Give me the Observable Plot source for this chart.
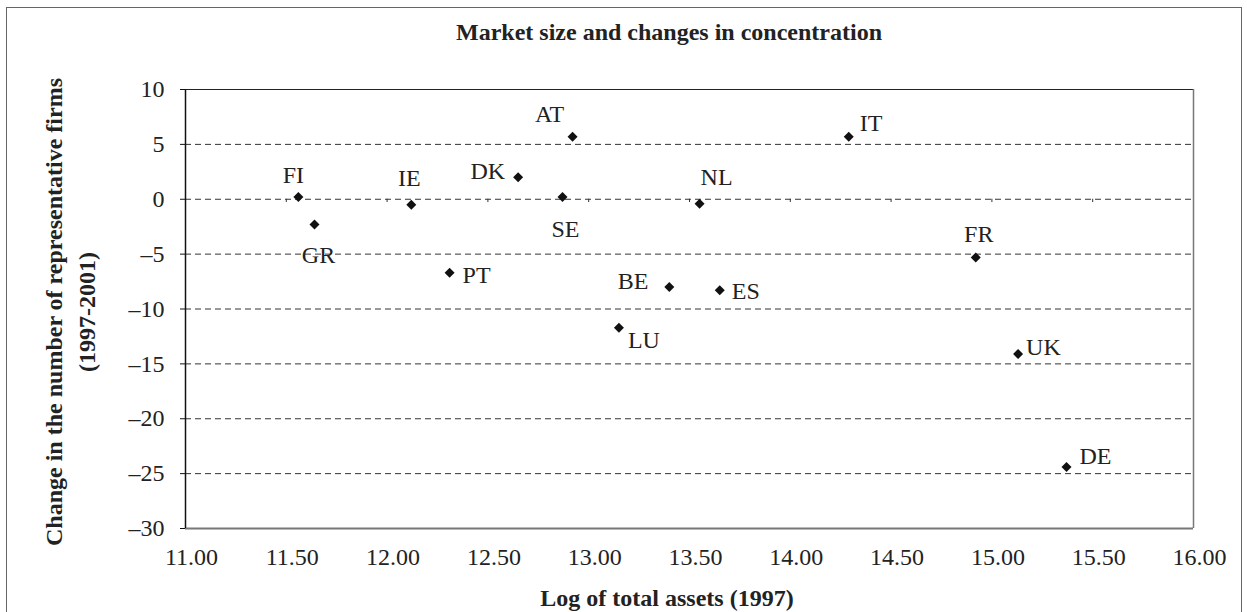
<!DOCTYPE html>
<html>
<head>
<meta charset="utf-8">
<script src="https://cdn.jsdelivr.net/npm/d3@7"></script>
<script src="https://cdn.jsdelivr.net/npm/@observablehq/plot@0.6"></script>
<style>
  html, body { margin: 0; padding: 0; background: #fff; }
  #wrap { position: relative; width: 1247px; height: 612px; overflow: hidden; background: #fff;
          font-family: "Liberation Serif", "Times New Roman", serif; color: #222; }
  #border { position: absolute; left: 6px; top: 7px; width: 1236px; height: 640px;
            border: 1.5px solid #666; box-sizing: border-box; }
  #plot { position: absolute; left: 0; top: 0; }
  svg text, svg tspan, svg g { font-family: "Liberation Serif", serif !important; }
  .title { position: absolute; font-weight: bold; font-size: 24px; line-height: 24px; white-space: nowrap; }
  #ylab { position: absolute; width: 520px; height: 66px; left: -189px; top: 279px;
          line-height: 33px; text-align: center; font-weight: bold; font-size: 24px;
          transform: rotate(-90deg); transform-origin: 50% 50%; white-space: nowrap; }
</style>
</head>
<body>
<div id="wrap">
  <div id="border"></div>
  <div id="plot"></div>
  <div class="title" id="title" style="left:669px; top:20px; transform:translateX(-50%);"></div>
  <div class="title" id="xlab" style="left:667px; top:586px; transform:translateX(-50%);"></div>
  <div id="ylab"></div>
</div>
<script>
// ---- data ----
const titleText = "Market size and changes in concentration";
const xLabel = "Log of total assets (1997)";
const yLabelLines = ["Change in the number of representative firms", "(1997-2001)"];

const countries = ["FI", "GR", "IE", "PT", "DK", "AT", "SE", "NL", "BE", "ES", "LU", "IT", "FR", "UK", "DE"];
const logAssets = [11.56, 11.64, 12.12, 12.31, 12.65, 12.92, 12.87, 13.55, 13.40, 13.65, 13.15, 14.29, 14.92, 15.13, 15.37];
const changeFirms = [0.2, -2.3, -0.5, -6.7, 2.0, 5.7, 0.2, -0.4, -8.0, -8.3, -11.7, 5.7, -5.3, -14.1, -24.4];

const xTicks = [11, 11.5, 12, 12.5, 13, 13.5, 14, 14.5, 15, 15.5, 16];
const yTicks = [10, 5, 0, -5, -10, -15, -20, -25, -30];
const gridY = [5, 0, -5, -10, -15, -20, -25];

// ---- label placement (style, not data) ----
const labelPlacement = {
  FI: ["middle", -5, -22], GR: ["middle", 4, 31], IE: ["middle", -2, -26],
  PT: ["start", 13, 3], DK: ["end", -13, -6], AT: ["middle", -23, -22],
  SE: ["middle", 3, 32], NL: ["middle", 17, -26], BE: ["end", -21, -6],
  ES: ["start", 12, 1], LU: ["start", 9, 13], IT: ["start", 11, -13],
  FR: ["middle", 3, -23], UK: ["start", 8, -7], DE: ["start", 13, -11]
};

const serif = "Liberation Serif";
const rows = countries.map((c, i) => ({code: c, x: logAssets[i], y: changeFirms[i]}));

document.getElementById("title").textContent = titleText;
document.getElementById("xlab").textContent = xLabel;
document.getElementById("ylab").innerHTML = yLabelLines.map(s => `<div>${s}</div>`).join("");

const fmtY = d => d < 0 ? "\u2013" + Math.abs(d) : String(d);

const labelMarks = rows.map(r => {
  const [anchor, dx, dy] = labelPlacement[r.code];
  return Plot.text([r], {x: "x", y: "y", text: "code", textAnchor: anchor, dx, dy,
    fontSize: 24, fontFamily: serif, fill: "#222"});
});

const chart = Plot.plot({
  width: 1247,
  height: 612,
  marginLeft: 185,
  marginRight: 54,
  marginTop: 89,
  marginBottom: 84,
  style: {background: "transparent", color: "#222"},
  x: {domain: [11, 16]},
  y: {domain: [-30, 10]},
  marks: [
    Plot.ruleY(gridY, {stroke: "#333", strokeWidth: 1, strokeDasharray: "6,4"}),
    Plot.ruleX(xTicks.slice(1), {y1: 0, y2: -0.3, stroke: "#333", strokeWidth: 1}),
    Plot.ruleY([10], {stroke: "#222", strokeWidth: 1}),
    Plot.ruleX([16], {stroke: "#777", strokeWidth: 1.5}),
    Plot.ruleY([-30], {stroke: "#777", strokeWidth: 2}),
    Plot.ruleX([11], {stroke: "#111", strokeWidth: 1.5}),
    Plot.axisY({ticks: yTicks, tickFormat: fmtY, tickSize: 5, tickPadding: 16,
      fontSize: 24, fontFamily: serif, label: null, stroke: "#111"}),
    Plot.axisX({ticks: xTicks, tickFormat: d => d.toFixed(2), tickSize: 0, tickPadding: 19,
      fontSize: 24, fontFamily: serif, dx: 6, label: null}),
    Plot.dot(rows, {x: "x", y: "y", symbol: "diamond2", r: 4.5, fill: "#111", stroke: "none"}),
    ...labelMarks
  ]
});
chart.setAttribute("font-family", serif);
chart.querySelectorAll("text").forEach(t => t.setAttribute("font-family", serif));
document.getElementById("plot").appendChild(chart);
</script>
</body>
</html>
